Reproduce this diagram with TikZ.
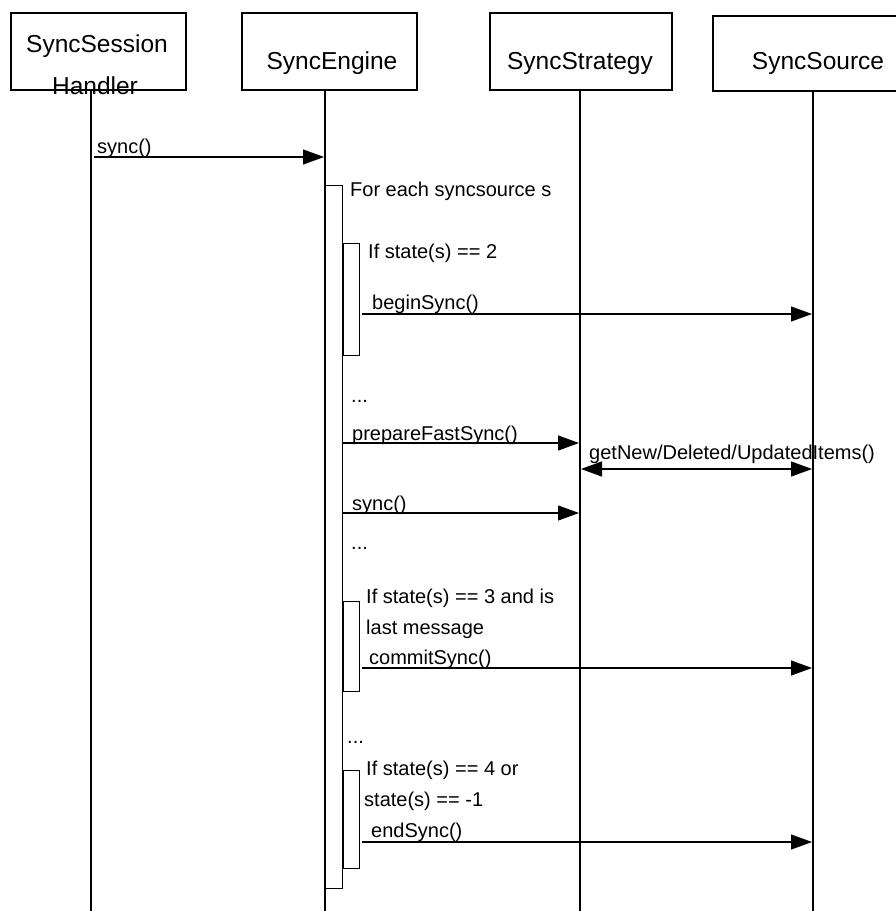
\documentclass[tikz,border=0pt]{standalone}
\usepackage{fontspec}
\setmainfont{Liberation Sans}
\usetikzlibrary{arrows.meta}
\begin{document}
\begin{tikzpicture}[x=1pt,y=-1pt,
  ln/.style={line width=1.2pt},
  objbox/.style={draw, line width=1.2pt, inner sep=0},
  act/.style={draw, fill=white, line width=1.2pt, inner sep=0, anchor=north west},
  ttl/.style={font=\fontsize{24.5}{29}\selectfont, inner sep=0, anchor=base},
  lbl/.style={font=\fontsize{20}{24}\selectfont, inner sep=0, anchor=base west},
  msg/.style={line width=1.2pt, -{Triangle[length=21pt,width=15pt]}},
  dmsg/.style={line width=1.2pt, {Triangle[length=21pt,width=15pt]}-{Triangle[length=21pt,width=15pt]}}]
\useasboundingbox (0,0) rectangle (895,911);

% object boxes
\node[objbox, minimum width=175pt, minimum height=77pt] (h) at (98.5,51.5) {};
\node[objbox, minimum width=175pt, minimum height=77pt] (e) at (329.5,51.5) {};
\node[objbox, minimum width=182pt, minimum height=77pt] (st) at (581,51.5) {};
\node[objbox, minimum width=200pt, minimum height=75pt] (so) at (813,53.5) {};

% titles
\node[ttl] (th1) at (97,52) {SyncSession};
\node[ttl] (th2) at (95,94) {Handler};
\node[ttl] (te) at (332,69) {SyncEngine};
\node[ttl] (tst) at (580,69) {SyncStrategy};
\node[ttl] (tso) at (818,69) {SyncSource};

% lifelines
\coordinate (hT) at (91,90);   \coordinate (hB) at (91,911);
\coordinate (eT) at (325,90);  \coordinate (eB) at (325,911);
\coordinate (sT) at (580,90);  \coordinate (sB) at (580,911);
\coordinate (oT) at (813,91);  \coordinate (oB) at (813,911);
\draw[ln] (hT) -- (hB);
\draw[ln] (eT) -- (eB);
\draw[ln] (sT) -- (sB);
\draw[ln] (oT) -- (oB);

% activation bars
\node[act, minimum width=17pt, minimum height=703pt] (a0) at (325,185) {};
\node[act, minimum width=16pt, minimum height=112pt] (a1) at (343,243) {};
\node[act, minimum width=16pt, minimum height=90pt] (a2) at (343,601) {};
\node[act, minimum width=16pt, minimum height=98pt] (a3) at (343,770) {};

% message end points
\coordinate (m1s) at (94,157);  \coordinate (m1e) at (324,157);
\coordinate (m2s) at (362,314); \coordinate (m2e) at (812,314);
\coordinate (m3s) at (343,443); \coordinate (m3e) at (579,443);
\coordinate (m4s) at (581,469); \coordinate (m4e) at (812,469);
\coordinate (m5s) at (343,513); \coordinate (m5e) at (579,513);
\coordinate (m6s) at (362,668); \coordinate (m6e) at (812,668);
\coordinate (m7s) at (362,842); \coordinate (m7e) at (812,842);

\draw[msg] (m1s) -- (m1e);
\draw[msg] (m2s) -- (m2e);
\draw[msg] (m3s) -- (m3e);
\draw[dmsg] (m4s) -- (m4e);
\draw[msg] (m5s) -- (m5e);
\draw[msg] (m6s) -- (m6e);
\draw[msg] (m7s) -- (m7e);

% labels
\node[lbl] (l1) at (97,153) {sync()};
\node[lbl] (l2) at (350,196) {For each syncsource s};
\node[lbl] (l3) at (368,258) {If state(s) == 2};
\node[lbl] (l4) at (372,309) {beginSync()};
\node[lbl] (l5) at (351,402) {...};
\node[lbl] (l6) at (352,440) {prepareFastSync()};
\node[lbl] (l7) at (589,459) {getNew/Deleted/UpdatedItems()};
\node[lbl] (l8) at (352,510) {sync()};
\node[lbl] (l9) at (351,549) {...};
\node[lbl] (l10) at (366,603) {If state(s) == 3 and is};
\node[lbl] (l11) at (366,634) {last message};
\node[lbl] (l12) at (369,664) {commitSync()};
\node[lbl] (l13) at (347,743) {...};
\node[lbl] (l14) at (366,775) {If state(s) == 4 or};
\node[lbl] (l15) at (364,806) {state(s) == -1};
\node[lbl] (l16) at (371,837) {endSync()};
\end{tikzpicture}
\end{document}
